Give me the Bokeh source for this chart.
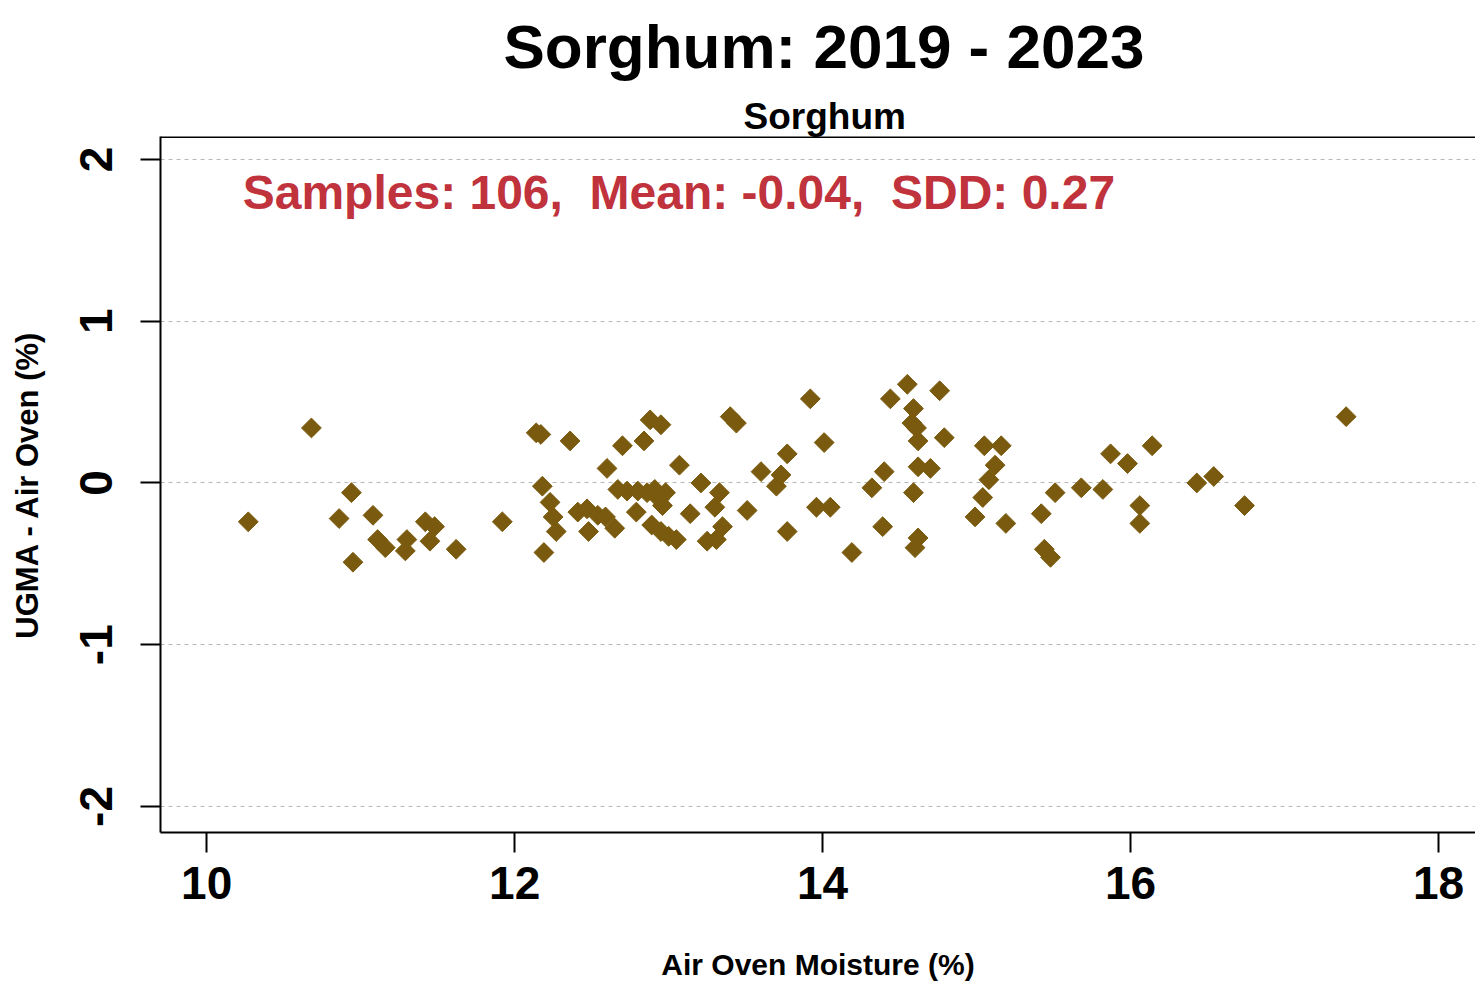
import numpy as np
from bokeh.plotting import figure
from bokeh.models import Range1d, FixedTicker, Title, Label, Span
from bokeh.embed import file_html
from bokeh.resources import INLINE

# ---- data ----
air_oven = [10.27, 10.68, 10.86, 10.94, 10.95, 11.08, 11.11, 11.16, 11.29, 11.30,
            11.42, 11.45, 11.48, 11.62, 11.92, 12.14, 12.17, 12.18, 12.19, 12.23,
            12.25, 12.27, 12.36, 12.41, 12.47, 12.48, 12.54, 12.59, 12.60, 12.65,
            12.70, 12.73, 12.79, 12.80, 12.84, 12.86, 12.88, 12.89, 12.91, 12.94,
            12.95, 12.95, 12.96, 12.98, 13.00, 13.05, 13.07, 13.14, 13.21, 13.25,
            13.30, 13.31, 13.33, 13.35, 13.40, 13.44, 13.51, 13.60, 13.70, 13.73,
            13.77, 13.77, 13.92, 13.96, 14.01, 14.05, 14.19, 14.32, 14.39, 14.40,
            14.44, 14.55, 14.59, 14.58, 14.61, 14.59, 14.62, 14.62, 14.62, 14.60,
            14.70, 14.76, 14.79, 14.99, 15.04, 15.05, 15.08, 15.12, 15.16, 15.19,
            15.42, 15.44, 15.48, 15.51, 15.68, 15.82, 15.87, 15.98, 16.06, 16.06,
            16.14, 16.43, 16.54, 16.74, 17.40, 12.67]
diff = [-0.24, 0.34, -0.22, -0.06, -0.49, -0.20, -0.35, -0.40, -0.42, -0.35,
        -0.24, -0.36, -0.27, -0.41, -0.24, 0.31, 0.30, -0.02, -0.43, -0.12,
        -0.21, -0.30, 0.26, -0.18, -0.16, -0.30, -0.20, -0.21, 0.09, -0.28,
        0.23, -0.05, -0.18, -0.05, 0.26, -0.06, 0.39, -0.26, -0.04, -0.10,
        0.36, -0.30, -0.14, -0.06, -0.33, -0.35, 0.11, -0.19, 0.00, -0.36,
        -0.15, -0.35, -0.06, -0.27, 0.41, 0.37, -0.17, 0.07, -0.02, 0.05,
        0.18, -0.30, 0.52, -0.15, 0.25, -0.15, -0.43, -0.03, -0.27, 0.07,
        0.52, 0.61, 0.46, 0.37, 0.34, -0.06, 0.26, 0.10, -0.34, -0.40,
        0.09, 0.57, 0.28, -0.21, -0.09, 0.23, 0.02, 0.11, 0.23, -0.25,
        -0.19, -0.41, -0.46, -0.06, -0.03, -0.04, 0.18, 0.12, -0.14, -0.25,
        0.23, 0.00, 0.04, -0.14, 0.41, -0.04]
x_ticks = [10, 12, 14, 16, 18]
y_ticks = [-2, -1, 0, 1, 2]
main_title = "Sorghum: 2019 - 2023"
panel_title = "Sorghum"
stats_text = "Samples: 106,\u00a0 Mean: -0.04,\u00a0 SDD: 0.27"
x_label = "Air Oven Moisture (%)"
y_label = "UGMA - Air Oven (%)"

FONT = "Liberation Sans"
MARK = "#7A5A0E"

p = figure(width=1475, height=984, output_backend="svg", toolbar_location=None,
           title=None,
           x_range=Range1d(9.70, 18.24), y_range=Range1d(-2.161, 2.142),
           min_border_left=160, min_border_right=0, min_border_top=0,
           min_border_bottom=152)
p.outline_line_color = None
p.background_fill_color = "white"
p.border_fill_color = "white"

p.scatter(air_oven, diff, marker="square", size=14, angle=np.pi / 4,
          fill_color=MARK, line_color=MARK)

# axes
for ax in (p.xaxis[0], p.yaxis[0]):
    ax.axis_line_color = "black"
    ax.axis_line_width = 2
    ax.major_tick_line_color = "black"
    ax.major_tick_line_width = 2
    ax.major_tick_out = 20
    ax.major_tick_in = 0
    ax.minor_tick_line_color = None
    ax.major_label_text_font = FONT
    ax.major_label_text_font_style = "bold"
    ax.major_label_text_font_size = "46px"
    ax.major_label_text_color = "black"
    ax.axis_label_text_font = FONT
    ax.axis_label_text_font_style = "bold"
    ax.axis_label_text_color = "black"

p.xaxis.ticker = FixedTicker(ticks=x_ticks)
p.yaxis.ticker = FixedTicker(ticks=y_ticks)
p.xaxis.major_label_overrides = {t: str(t) for t in x_ticks}
p.yaxis.major_label_overrides = {t: str(t) for t in y_ticks}
p.xaxis.axis_label = x_label
p.yaxis.axis_label = y_label
p.xaxis.axis_label_text_font_size = "30px"
p.yaxis.axis_label_text_font_size = "31px"
p.xaxis.major_label_standoff = 14
p.xaxis.axis_label_standoff = 46
p.yaxis.major_label_standoff = 28
p.yaxis.axis_label_standoff = 33
p.yaxis.major_label_orientation = "vertical"

p.xgrid.grid_line_color = None
p.ygrid.grid_line_color = "#b8b8b8"
p.ygrid.grid_line_dash = "4 4"
p.ygrid.grid_line_width = 1

# top border of the panel
p.add_layout(Span(location=2.142, dimension="width", line_color="black", line_width=3))

# titles
sub = Title(text=panel_title, align="left", offset=583, text_font=FONT,
            text_font_style="bold", text_font_size="37px", text_color="black",
            standoff=0)
main = Title(text=main_title, align="left", offset=343, text_font=FONT,
             text_font_style="bold", text_font_size="62px", text_color="black",
             standoff=22, vertical_align="top")
p.add_layout(sub, "above")
p.add_layout(main, "above")

# statistics annotation
p.add_layout(Label(x=10.234, y=1.795, text=stats_text, text_font=FONT,
                   text_font_style="bold", text_font_size="48px",
                   text_color="#C0323C", text_baseline="alphabetic"))

open("out.html", "w").write(file_html(p, INLINE))
